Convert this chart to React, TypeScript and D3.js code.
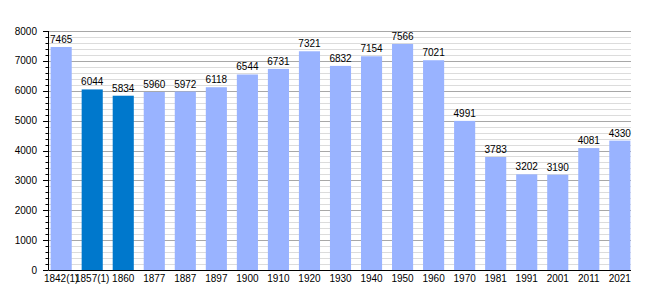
import React from "react";
import * as d3 from "d3";

const years = ["1842(1)", "1857(1)", "1860", "1877", "1887", "1897", "1900", "1910", "1920", "1930", "1940", "1950", "1960", "1970", "1981", "1991", "2001", "2011", "2021"];
const population = [7465, 6044, 5834, 5960, 5972, 6118, 6544, 6731, 7321, 6832, 7154, 7566, 7021, 4991, 3783, 3202, 3190, 4081, 4330];
const highlighted = ["1857(1)", "1860"];
const yTicks = [0, 1000, 2000, 3000, 4000, 5000, 6000, 7000, 8000];

export default function App() {
  const W = 660, H = 300;
  const axisX = 48.5, left = 50, right = 631, top = 31, bottom = 270;
  const x = d3.scaleBand<string>().domain(years).range([left, right]).paddingInner(0.32).paddingOuter(0.02);
  const y = d3.scaleLinear().domain([0, 8000]).range([bottom, top]);
  const minor = d3.range(0, 8001, 200).filter((v) => v % 1000 !== 0);
  const font = "'Liberation Sans', Arial, sans-serif";
  return (
    <svg width={W} height={H} style={{ position: "absolute", left: 0, top: 0, background: "#fff" }} fontFamily={font}>
      {minor.map((v) => (
        <line key={"m" + v} x1={axisX} x2={right} y1={Math.round(y(v)) + 0.5} y2={Math.round(y(v)) + 0.5} stroke="#dcdcdc" strokeWidth={1} />
      ))}
      {yTicks.filter((v) => v > 0).map((v) => (
        <line key={"g" + v} x1={axisX} x2={right} y1={Math.round(y(v)) + 0.5} y2={Math.round(y(v)) + 0.5} stroke="#a8a8a8" strokeWidth={1} />
      ))}
      {years.map((yr, i) => (
        <rect key={yr} x={x(yr)} y={y(population[i])} width={x.bandwidth()} height={bottom - y(population[i])} fill={highlighted.includes(yr) ? "#0078cc" : "#99b3ff"} />
      ))}
      {years.map((yr, i) => (
        <text key={"v" + yr} x={(x(yr) as number) + x.bandwidth() / 2} y={y(population[i]) - 4} textAnchor="middle" fontSize={10} fill="#000">{population[i]}</text>
      ))}
      <line x1={axisX} x2={axisX} y1={top} y2={bottom} stroke="#000" strokeWidth={1} />
      <line x1={axisX} x2={right} y1={bottom + 0.5} y2={bottom + 0.5} stroke="#000" strokeWidth={1} />
      {minor.map((v) => (
        <line key={"mt" + v} x1={axisX - 3} x2={axisX} y1={Math.round(y(v)) + 0.5} y2={Math.round(y(v)) + 0.5} stroke="#000" strokeWidth={1} />
      ))}
      {yTicks.map((v) => (
        <g key={"t" + v}>
          <line x1={axisX - 5.5} x2={axisX} y1={Math.round(y(v)) + 0.5} y2={Math.round(y(v)) + 0.5} stroke="#000" strokeWidth={1} />
          <text x={37} y={y(v) + 3.5} textAnchor="end" fontSize={10} fill="#000">{v}</text>
        </g>
      ))}
      {years.map((yr) => (
        <text key={"x" + yr} x={(x(yr) as number) + x.bandwidth() / 2} y={282} textAnchor="middle" fontSize={10} fill="#000">{yr}</text>
      ))}
    </svg>
  );
}
